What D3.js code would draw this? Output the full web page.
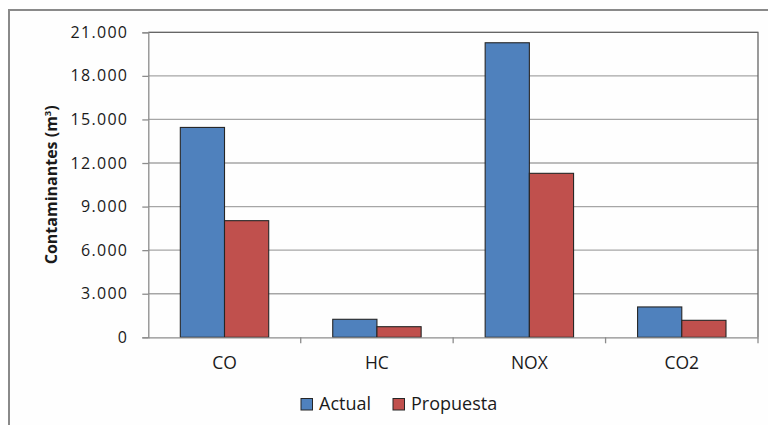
<!DOCTYPE html>
<html>
<head>
<meta charset="utf-8">
<script src="https://cdn.jsdelivr.net/npm/d3@7"></script>
<style>
  html, body { margin: 0; padding: 0; background: #ffffff; }
  svg { display: block; }
  text { font-family: "Open Sans", "Noto Sans", sans-serif; fill: #1a1a1a; }
</style>
</head>
<body>
<svg id="chart" width="768" height="425"></svg>
<script>
// Pollutant categories and the two scenarios
const categories = ["CO", "HC", "NOX", "CO2"];
const seriesNames = ["Actual", "Propuesta"];
const actualValues = [14450, 1240, 20280, 2090];
const propuestaValues = [8030, 730, 11290, 1170];
const yTickValues = [0, 3000, 6000, 9000, 12000, 15000, 18000, 21000];
const seriesColors = ["#4F81BD", "#C0504D"];

const rows = categories.map((c, i) => ({
  category: c,
  values: [actualValues[i], propuestaValues[i]]
}));

const svg = d3.select("#chart");
const W = 768, H = 425;
const plot = { left: 148.3, right: 758, top: 32.3, bottom: 337.3 };

// chart frame
svg.append("rect")
  .attr("x", 9).attr("y", 10)
  .attr("width", W + 10).attr("height", H + 10)
  .attr("fill", "#fefefe")
  .attr("stroke", "#8a8a8a").attr("stroke-width", 2);

const x0 = d3.scaleBand().domain(categories).range([plot.left, plot.right]).padding(0);
const groupWidth = x0.bandwidth() * 0.58;
const x1 = d3.scaleBand().domain(d3.range(seriesNames.length)).range([0, groupWidth]).padding(0);
const y = d3.scaleLinear().domain([0, 21000]).range([plot.bottom, plot.top]);

const fmt = d3.formatLocale({ decimal: ",", thousands: ".", grouping: [3], currency: ["", ""] }).format(",");

// horizontal gridlines
svg.append("g")
  .selectAll("line")
  .data(yTickValues.filter(v => v > 0))
  .join("line")
  .attr("x1", plot.left).attr("x2", plot.right)
  .attr("y1", d => y(d)).attr("y2", d => y(d))
  .attr("stroke", "#a6a6a6").attr("stroke-width", 1.3);

// plot area border (top and right)
svg.append("path")
  .attr("d", `M${plot.left},${plot.top}H${plot.right}V${plot.bottom}`)
  .attr("fill", "none").attr("stroke", "#666").attr("stroke-width", 1.3);

// bars
const groups = svg.append("g")
  .selectAll("g")
  .data(rows)
  .join("g")
  .attr("transform", d => `translate(${x0(d.category) + (x0.bandwidth() - groupWidth) / 2},0)`);

groups.selectAll("rect")
  .data(d => d.values.map((v, i) => ({ v, i })))
  .join("rect")
  .attr("x", d => x1(d.i))
  .attr("width", x1.bandwidth())
  .attr("y", d => y(d.v))
  .attr("height", d => y(0) - y(d.v))
  .attr("fill", d => seriesColors[d.i])
  .attr("stroke", "#262626").attr("stroke-width", 1.1);

// y axis
const yAxis = svg.append("g")
  .attr("transform", `translate(${plot.left},0)`)
  .call(d3.axisLeft(y).tickValues(yTickValues).tickFormat(fmt).tickSize(6).tickPadding(14));
yAxis.select(".domain").attr("stroke", "#8c8c8c").attr("stroke-width", 1.3);
yAxis.selectAll(".tick line").attr("stroke", "#8c8c8c").attr("stroke-width", 1.3);
yAxis.selectAll(".tick text")
  .attr("font-family", "Open Sans, sans-serif")
  .attr("font-size", 16).attr("letter-spacing", 1.3).attr("fill", "#1a1a1a");

// x axis
const xAxis = svg.append("g")
  .attr("transform", `translate(0,${plot.bottom})`)
  .call(d3.axisBottom(x0).tickSize(0).tickPadding(19));
xAxis.select(".domain").attr("stroke", "#8c8c8c").attr("stroke-width", 1.3);
xAxis.selectAll(".tick text")
  .attr("font-family", "Open Sans, sans-serif")
  .attr("font-size", 17.5).attr("fill", "#1a1a1a");

// category separators below the axis
svg.append("g")
  .selectAll("line")
  .data(categories.slice(1).concat(["__end"]))
  .join("line")
  .attr("x1", (d, i) => i < categories.length - 1 ? x0(d) : plot.right)
  .attr("x2", (d, i) => i < categories.length - 1 ? x0(d) : plot.right)
  .attr("y1", plot.bottom).attr("y2", plot.bottom + 6)
  .attr("stroke", "#8c8c8c").attr("stroke-width", 1.3);

// y axis title
const title = svg.append("text")
  .attr("transform", `translate(57,${(plot.top + plot.bottom) / 2}) rotate(-90)`)
  .attr("text-anchor", "middle")
  .attr("font-size", 16).attr("font-weight", "bold");
title.append("tspan").text("Contaminantes (m");
title.append("tspan").text("3").attr("font-size", 9.5).attr("baseline-shift", "super");
title.append("tspan").text(")");

// legend
const legendItems = [
  { name: seriesNames[0], color: seriesColors[0], x: 301 },
  { name: seriesNames[1], color: seriesColors[1], x: 393 }
];
const legend = svg.append("g");
legendItems.forEach(item => {
  legend.append("rect")
    .attr("x", item.x).attr("y", 398.5)
    .attr("width", 11.5).attr("height", 11.5)
    .attr("fill", item.color)
    .attr("stroke", "#262626").attr("stroke-width", 1);
  legend.append("text")
    .attr("x", item.x + 18).attr("y", 410)
    .attr("font-size", 18)
    .text(item.name);
});
</script>
</body>
</html>
